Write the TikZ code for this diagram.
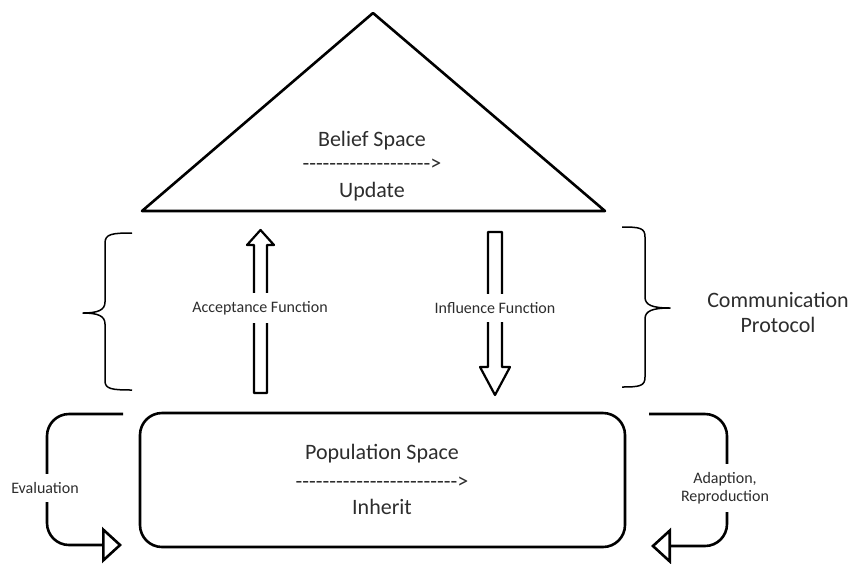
\documentclass[tikz,border=0pt]{standalone}
\usepackage{fontspec}
\setmainfont{Carlito}[Ligatures=TeXOff]
\usepackage{xcolor}
\usetikzlibrary{arrows.meta}
\definecolor{txtgray}{RGB}{45,45,45}

\begin{document}
\begin{tikzpicture}[x=1pt, y=-1pt, line join=round,
    every node/.style={text=txtgray, inner sep=0pt},
    big/.style={font=\fontsize{22}{26}\selectfont},
    small/.style={font=\fontsize{16}{18}\selectfont, fill=white, align=center,
      inner xsep=4pt, inner ysep=8pt},
    thickline/.style={line width=2.6pt},
    blockarrow/.style={line width=2.2pt},
    bracket/.style={line width=1.5pt},
    loopline/.style={line width=2.6pt, rounded corners=22pt,
      -{Triangle[open, length=20pt, width=36pt]}}]
  \useasboundingbox (0,0) rectangle (851,563);

  % belief space
  \draw[thickline] (373,13) -- (605,211) -- (142,211) -- cycle;
  \node[big] (belief) at (372,141) {Belief Space};
  \node[big] (beliefdash) at (372,165) {-------------------{}>};
  \node[big] (update) at (372,192) {Update};

  % population space
  \draw[thickline, rounded corners=22pt] (140,413) rectangle (625,547);
  \node[big] (population) at (382,454) {Population Space};
  \node[big] (popdash) at (382,483) {------------------------{}>};
  \node[big] (inherit) at (382,507) {Inherit};

  % acceptance (up) and influence (down)
  \draw[blockarrow] (254,393) -- (254,245) -- (247,245) -- (260.5,230)
    -- (274,245) -- (267,245) -- (267,393) -- cycle;
  \node[small] (accept) at (260,308) {Acceptance Function};
  \draw[blockarrow] (488,232) -- (502,232) -- (502,367) -- (510,367)
    -- (495,395) -- (480,367) -- (488,367) -- cycle;
  \node[small] (influence) at (495,308) {Influence Function};

  % braces
  \draw[bracket] (132,233) .. controls (112,233) and (105,234) .. (105,243)
    -- (105,302) .. controls (105,310) and (98,313) .. (83,313)
    .. controls (98,313) and (105,316) .. (105,324)
    -- (105,381) .. controls (105,389) and (112,390) .. (132,390);
  \draw[bracket] (622,227) .. controls (640,227) and (645,228) .. (645,237)
    -- (645,297) .. controls (645,305) and (652,308) .. (670,308)
    .. controls (652,308) and (645,311) .. (645,319)
    -- (645,377) .. controls (645,386) and (640,387) .. (622,387);
  \node[font=\fontsize{22}{25}\selectfont, align=center] (protocol) at (778,312) {Communication\\Protocol};

  % loops
  \draw[loopline] (123,414) -- (47,414) -- (47,545) -- (122,545);
  \node[small] (evaluation) at (45,488) {Evaluation};
  \draw[loopline] (649,414) -- (727,414) -- (727,546) -- (651,546);
  \node[small] (adaption) at (725,488) {Adaption,\\Reproduction};
\end{tikzpicture}
\end{document}
